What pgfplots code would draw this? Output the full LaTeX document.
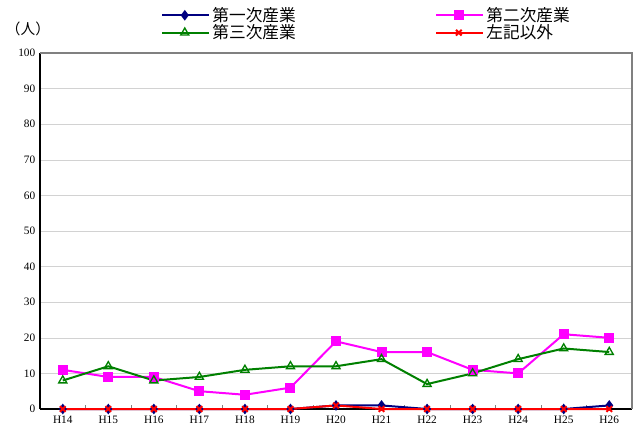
\documentclass[border=0pt]{standalone}
\usepackage{fontspec}
\setmainfont{Liberation Serif}
\newfontfamily\cjk{Noto Sans CJK JP}
\usepackage{pgfplots}
\pgfplotsset{compat=1.18}
\begin{document}
\begin{tikzpicture}
\begin{axis}[
  scale only axis,
  width=444pt, height=267pt,
  xmin=-0.5, xmax=12.5,
  ymin=0, ymax=100,
  xtick={0,...,12},
  xticklabels={H14,H15,H16,H17,H18,H19,H20,H21,H22,H23,H24,H25,H26},
  ytick={0,10,...,100},
  minor xtick={0.5,1.5,...,11.5},
  /pgf/number format/assume math mode=true,
  tick label style={font=\fontsize{8.5}{10}\selectfont},
  xticklabel style={yshift=-2pt},
  axis x line*=bottom, axis y line*=left,
  axis line style={black, line width=1.1pt, -},
  x tick style={draw=none},
  minor x tick style={draw=gray, line width=0.5pt},
  minor tick length=3pt,
  tick align=inside,
  y tick style={draw=none},
  ymajorgrids, major grid style={gray!35, line width=0.4pt},
  clip=false,
  legend columns=2,
  legend style={at={(0.552,1.0)}, anchor=south, yshift=5pt, draw=none, fill=none,
    font=\cjk\fontsize{12.5}{13}\selectfont, row sep=-3pt,
    /tikz/every even column/.append style={column sep=0pt}},
  legend image post style={line width=1.5pt},
  legend image code/.code={\draw[#1] (0cm,0cm) -- (17pt,0cm) -- (35pt,0cm); \draw[#1, mark repeat=2, mark phase=2] plot coordinates {(0pt,0pt)(17pt,0pt)(35pt,0pt)};},
  legend cell align=left,
]
\addplot[color={rgb,255:red,0;green,0;blue,128}, line width=1.5pt, mark=diamond*, mark size=2.8pt] coordinates {(0,0)(1,0)(2,0)(3,0)(4,0)(5,0)(6,1)(7,1)(8,0)(9,0)(10,0)(11,0)(12,1)};
\addlegendentry{\makebox[165pt][l]{第一次産業}}
\addplot[color={rgb,255:red,255;green,0;blue,255}, line width=1.5pt, mark=square*, mark size=3pt] coordinates {(0,11)(1,9)(2,9)(3,5)(4,4)(5,6)(6,19)(7,16)(8,16)(9,11)(10,10)(11,21)(12,20)};
\addlegendentry{第二次産業}
\addplot[color={rgb,255:red,0;green,128;blue,0}, line width=1.5pt, mark=triangle, mark size=3.5pt, mark options={fill=white, line width=1pt}] coordinates {(0,8)(1,12)(2,8)(3,9)(4,11)(5,12)(6,12)(7,14)(8,7)(9,10)(10,14)(11,17)(12,16)};
\addlegendentry{\makebox[165pt][l]{第三次産業}}
\addplot[color=red, line width=1.5pt, mark=x, mark size=3pt] coordinates {(0,0)(1,0)(2,0)(3,0)(4,0)(5,0)(6,1)(7,0)(8,0)(9,0)(10,0)(11,0)(12,0)};
\addlegendentry{左記以外}
\draw[gray, line width=1.1pt] (rel axis cs:0,1) -- (rel axis cs:1,1) -- (rel axis cs:1,0);
\node[font=\cjk\fontsize{11}{12}\selectfont, anchor=center] at ([xshift=-9pt, yshift=18pt]rel axis cs:0,1) {（人）};
\end{axis}
\useasboundingbox ([xshift=-30pt, yshift=-14.25pt]current axis.south west) rectangle ([xshift=1.5pt, yshift=39.75pt]current axis.north east);
\end{tikzpicture}
\end{document}
